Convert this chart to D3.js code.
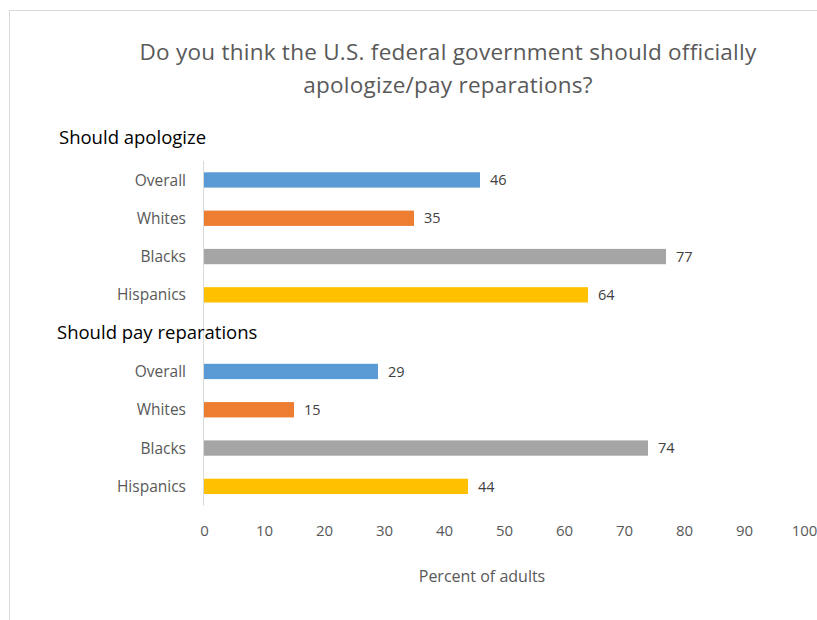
<!DOCTYPE html>
<html><head><meta charset="utf-8">
<script src="https://cdn.jsdelivr.net/npm/d3@7"></script>
<style>body{margin:0;background:#fff}svg{display:block}</style>
</head><body>
<svg id="c" width="817" height="620"></svg>
<script>
const titleLines = ["Do you think the U.S. federal government should officially", "apologize/pay reparations?"];
const groups = ["Should apologize", "Should pay reparations"];
const categories = ["Overall", "Whites", "Blacks", "Hispanics"];
const apologizeValues = [46, 35, 77, 64];
const reparationsValues = [29, 15, 74, 44];
const colors = ["#5b9bd5", "#ed7d31", "#a5a5a5", "#ffc000"];
const tickValues = [0, 10, 20, 30, 40, 50, 60, 70, 80, 90, 100];
const axisTitle = "Percent of adults";

const rows = [];
[apologizeValues, reparationsValues].forEach((vals, g) => {
  rows.push({key: "h" + g, heading: groups[g]});
  categories.forEach((c, i) => rows.push({key: g + "-" + i, label: c, value: vals[i], color: colors[i]}));
});

const svg = d3.select("#c");
const font = "'Open Sans', 'Noto Sans', sans-serif";
svg.append("rect").attr("x", 9.5).attr("y", 10.5).attr("width", 820).attr("height", 620)
  .attr("fill", "#fff").attr("stroke", "#d9d9d9");

const x = d3.scaleLinear().domain([0, 100]).range([204, 804]);
const y = d3.scaleBand().domain(rows.map(r => r.key)).range([122.5, 505.5]).paddingInner(0.6).paddingOuter(0.3);
const step = y.step();

svg.append("g").selectAll("text").data(titleLines).join("text")
  .attr("x", 448).attr("y", (d, i) => 60 + i * 33).attr("text-anchor", "middle")
  .attr("font-family", font).attr("font-size", 22.5).attr("letter-spacing", 0.25)
  .attr("fill", "#595959").text(d => d);

const bars = rows.filter(r => !r.heading);
svg.append("g").selectAll("rect").data(bars).join("rect")
  .attr("x", x(0)).attr("y", d => y(d.key)).attr("width", d => x(d.value) - x(0))
  .attr("height", y.bandwidth()).attr("fill", d => d.color);

svg.append("line").attr("x1", x(0) - 0.5).attr("x2", x(0) - 0.5)
  .attr("y1", y("0-0") - (step - y.bandwidth()) / 2).attr("y2", 505.5).attr("stroke", "#d9d9d9");

svg.append("g").selectAll("text").data(bars).join("text")
  .attr("x", 186).attr("y", d => y(d.key) + y.bandwidth() / 2).attr("dy", "0.36em")
  .attr("text-anchor", "end").attr("font-family", font).attr("font-size", 15.5).attr("fill", "#595959")
  .text(d => d.label);

svg.append("g").selectAll("text").data(bars).join("text")
  .attr("x", d => x(d.value) + 10).attr("y", d => y(d.key) + y.bandwidth() / 2).attr("dy", "0.36em")
  .attr("font-family", font).attr("font-size", 14.5).attr("fill", "#404040")
  .text(d => d.value);

svg.append("g").selectAll("text").data(rows.filter(r => r.heading)).join("text")
  .attr("x", (d, i) => i === 0 ? 59 : 57)
  .attr("y", (d, i) => y(d.key) + y.bandwidth() / 2 + (i === 0 ? 2.5 : 6))
  .attr("font-family", font).attr("font-size", 18.5).attr("fill", "#000")
  .text(d => d.heading);

const axis = d3.axisBottom(x).tickValues(tickValues).tickSize(0).tickPadding(0);
const ag = svg.append("g").attr("transform", "translate(0,525)").call(axis);
ag.select(".domain").remove();
ag.selectAll("text").attr("font-family", font).attr("font-size", 15).attr("fill", "#595959");

svg.append("text").attr("x", 482).attr("y", 582).attr("text-anchor", "middle")
  .attr("font-family", font).attr("font-size", 16).attr("fill", "#595959").text(axisTitle);
</script>
</body></html>
